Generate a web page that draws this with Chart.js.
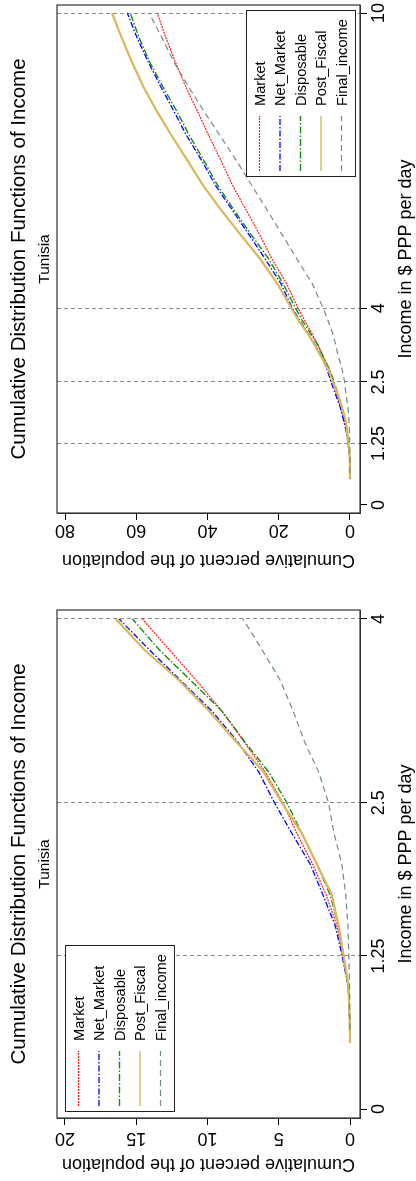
<!DOCTYPE html>
<html><head><meta charset="utf-8">
<script src="https://cdn.jsdelivr.net/npm/chart.js@4.4.0/dist/chart.umd.min.js"></script>
<style>
html,body{margin:0;padding:0;background:#fff;}
#wrap{position:relative;width:416px;height:1181px;overflow:hidden;background:#fff;}
canvas{position:absolute;left:0;}
</style></head><body>
<div id="wrap">
<canvas id="c1" width="416" height="590" style="top:0px"></canvas>
<canvas id="c2" width="416" height="591" style="top:590px"></canvas>
</div>
<script>
// ---- texts ----
const chartTitle = "Cumulative Distribution Functions of Income";
const chartSubtitle = "Tunisia";
const incomeAxisTitle = "Income in $ PPP per day";
const pctAxisTitle = "Cumulative percent of the population";
const seriesNames = ["Market", "Net_Market", "Disposable", "Post_Fiscal", "Final_income"];

// ---- data: income level ($ PPP/day) -> cumulative percent of population ----
const incomeLevels = [0.54, 0.65, 0.75, 1.0, 1.25, 1.5, 1.75, 2.0, 2.25, 2.5, 2.75, 3.0, 3.25, 3.5, 3.75, 4.0, 4.5, 5.0, 5.5, 6.0, 6.5, 7.0, 7.5, 8.0, 8.5, 9.0, 9.5, 10.0];
const market      = [0, 0.01, 0.03, 0.12, 0.50, 0.93, 1.68, 2.63, 3.73, 4.71, 5.94, 7.45, 9.0, 10.8, 12.7, 14.57, 17.8, 21.9, 25.4, 29.2, 33.0, 36.2, 39.6, 42.8, 46.1, 49.0, 51.7, 54.1];
const netMarket   = [0, 0.01, 0.03, 0.13, 0.55, 1.05, 1.91, 2.80, 4.08, 5.30, 6.40, 7.90, 9.7, 11.9, 14.1, 16.2, 19.4, 23.8, 28.4, 33.1, 37.8, 41.6, 45.8, 49.4, 53.1, 56.6, 59.8, 62.5];
const disposable  = [0, 0.01, 0.03, 0.12, 0.45, 0.81, 1.40, 2.33, 3.38, 4.43, 5.70, 7.40, 9.0, 11.2, 13.4, 15.27, 18.8, 22.8, 27.8, 32.6, 37.2, 41.0, 45.0, 48.6, 52.5, 56.2, 59.2, 61.7];
const postFiscal  = [0, 0.01, 0.03, 0.10, 0.45, 0.81, 1.28, 2.33, 3.38, 4.78, 6.06, 8.00, 9.9, 12.0, 14.45, 16.43, 20.4, 25.2, 30.8, 36.2, 41.3, 45.6, 50.0, 54.2, 58.0, 61.2, 64.1, 66.8];
const finalIncome = [null, 0, 0.01, 0.03, 0.08, 0.15, 0.30, 0.58, 1.12, 1.51, 2.20, 3.20, 4.0, 4.9, 6.18, 7.51, 10.6, 14.9, 19.1, 23.3, 27.6, 31.9, 36.4, 41.0, 45.3, 49.4, 52.8, 56.4];

// ---- ticks ----
const incomeTicksTop = [0, 1.25, 2.5, 4, 10];
const incomeTickLabelsTop = ["0", "1.25", "2.5", "4", "10"];
const pctTicksTop = [0, 20, 40, 60, 80];
const pctTickLabelsTop = ["0", "20", "40", "60", "80"];
const incomeTicksBottom = [0, 1.25, 2.5, 4];
const incomeTickLabelsBottom = ["0", "1.25", "2.5", "4"];
const pctTicksBottom = [0, 5, 10, 15, 20];
const pctTickLabelsBottom = ["0", "5", "10", "15", "20"];
const povertyLines = [1.25, 2.5, 4, 10];

// ---- styles ----
const FONT = '"Liberation Sans", Arial, Helvetica, sans-serif';
const seriesStyles = [
  {color: '#ff1a1a', width: 1.2, dash: [2, 1]},
  {color: '#0000ff', width: 1.3, dash: [6, 2, 1.5, 2]},
  {color: '#158a15', width: 1.4, dash: [7, 2, 1.5, 2]},
  {color: '#d8b85c', width: 2.2, dash: []},
  {color: '#6e8e84', width: 1.2, dash: [6, 4]}
];
const seriesValues = [market, netMarket, disposable, postFiscal, finalIncome];

function buildSeries(maxIncome) {
  return seriesValues.map((vals, i) => {
    const pts = [];
    incomeLevels.forEach((inc, k) => {
      if (vals[k] !== null && inc <= maxIncome + 1e-9) pts.push({x: vals[k], y: inc});
    });
    const st = seriesStyles[i];
    return {
      label: seriesNames[i], data: pts,
      borderColor: st.color, borderWidth: st.width, borderDash: st.dash,
      pointRadius: 0, fill: false, tension: 0, order: 5 - i
    };
  });
}

function rotText(ctx, text, x, y, angle, size, align) {
  ctx.save();
  ctx.translate(x, y);
  ctx.rotate(angle);
  ctx.font = size + 'px ' + FONT;
  ctx.textAlign = align;
  ctx.textBaseline = 'alphabetic';
  ctx.fillStyle = '#000';
  ctx.fillText(text, 0, 0);
  ctx.restore();
}

function decoPlugin(cfg) {
  return {
    id: 'deco',
    afterDraw(chart) {
      const ctx = chart.ctx, ca = chart.chartArea;
      const xs = chart.scales.x, ys = chart.scales.y;
      const cy = (ca.top + ca.bottom) / 2, cx = (ca.left + ca.right) / 2;
      // frame
      ctx.save();
      ctx.strokeStyle = '#333';
      ctx.lineWidth = 1.2;
      ctx.strokeRect(ca.left, ca.top, ca.right - ca.left, ca.bottom - ca.top);
      ctx.restore();
      // titles
      rotText(ctx, chartTitle, ca.left - 32, cy, -Math.PI / 2, 20.5, 'center');
      rotText(ctx, chartSubtitle, ca.left - 8, cy, -Math.PI / 2, 15.5, 'center');
      rotText(ctx, incomeAxisTitle, ca.right + 51, cy, -Math.PI / 2, 18, 'center');
      rotText(ctx, pctAxisTitle, cx, ca.bottom + cfg.pctTitleOff, Math.PI, 18, 'center');
      // tick labels
      cfg.incomeTicks.forEach((v, i) => {
        rotText(ctx, cfg.incomeLabels[i], ca.right + 24, ys.getPixelForValue(v), -Math.PI / 2, 18, 'center');
      });
      cfg.pctTicks.forEach((v, i) => {
        rotText(ctx, cfg.pctLabels[i], xs.getPixelForValue(v), ca.bottom + cfg.pctTickOff, Math.PI, 18, 'center');
      });
      // legend
      const bw = 109, bh = 166;
      let bx, by;
      if (cfg.legendPos === 'topright') { bx = ca.right - 5 - bw; by = ca.top + 5; }
      else { bx = ca.left + 8; by = ca.bottom - 7 - bh; }
      ctx.save();
      ctx.fillStyle = '#fff';
      ctx.fillRect(bx, by, bw, bh);
      ctx.strokeStyle = '#222';
      ctx.lineWidth = 1;
      ctx.strokeRect(bx + 0.5, by + 0.5, bw, bh);
      ctx.restore();
      const capH = 0.716 * 14.6;
      seriesNames.forEach((name, i) => {
        const colX = bx + 13.5 + i * 20.5;
        const st = seriesStyles[i];
        ctx.save();
        ctx.strokeStyle = st.color;
        ctx.lineWidth = i === 3 ? 1.4 : st.width;
        ctx.setLineDash(st.dash);
        ctx.beginPath();
        ctx.moveTo(colX, by + bh - 5);
        ctx.lineTo(colX, by + bh - 60);
        ctx.stroke();
        ctx.restore();
        rotText(ctx, name, colX + capH / 2, by + bh - 70, -Math.PI / 2, 14.6, 'left');
      });
    }
  };
}

function makeChart(id, cfg) {
  new Chart(document.getElementById(id), {
    type: 'line',
    data: {datasets: buildSeries(cfg.maxIncome)},
    options: {
      responsive: false, animation: false, devicePixelRatio: 1,
      layout: {padding: {left: 57, right: 49, top: cfg.padTop, bottom: cfg.padBottom}},
      plugins: {legend: {display: false}, title: {display: false}, tooltip: {enabled: false}},
      elements: {point: {radius: 0}, line: {tension: 0}},
      scales: {
        x: {
          type: 'linear', position: 'bottom', reverse: true, min: cfg.pctMin, max: cfg.pctMax,
          afterBuildTicks: s => { s.ticks = cfg.pctTicks.map(v => ({value: v})); },
          ticks: {display: false},
          grid: {display: true, drawOnChartArea: false, drawTicks: true, tickLength: 7, tickColor: '#000', tickWidth: 1},
          border: {display: true, color: '#333', width: 1}
        },
        y: {
          type: 'linear', position: 'right', min: cfg.incMin, max: cfg.incMax,
          afterBuildTicks: s => { s.ticks = cfg.incomeTicks.map(v => ({value: v})); },
          ticks: {display: false},
          grid: {
            display: true, drawOnChartArea: true, drawTicks: true, tickLength: 7,
            tickColor: '#000', tickWidth: 1, lineWidth: 1,
            color: c => (c.tick && povertyLines.includes(c.tick.value)) ? '#8a8a8a' : 'rgba(0,0,0,0)'
          },
          border: {display: true, color: '#333', width: 1, dash: [4, 3]}
        }
      }
    },
    plugins: [decoPlugin(cfg)]
  });
}

makeChart('c1', {
  maxIncome: 10, padTop: 5, padBottom: 70,
  pctMin: -2.81, pctMax: 82.25, incMin: -0.163, incMax: 10.163,
  pctTicks: pctTicksTop, pctLabels: pctTickLabelsTop,
  incomeTicks: incomeTicksTop, incomeLabels: incomeTickLabelsTop,
  legendPos: 'topright', pctTickOff: 12, pctTitleOff: 42
});
makeChart('c2', {
  maxIncome: 4, padTop: 20, padBottom: 56,
  pctMin: -0.70, pctMax: 20.56, incMin: -0.073, incMax: 4.073,
  pctTicks: pctTicksBottom, pctLabels: pctTickLabelsBottom,
  incomeTicks: incomeTicksBottom, incomeLabels: incomeTickLabelsBottom,
  legendPos: 'bottomleft', pctTickOff: 15, pctTitleOff: 41
});
</script>
</body></html>
